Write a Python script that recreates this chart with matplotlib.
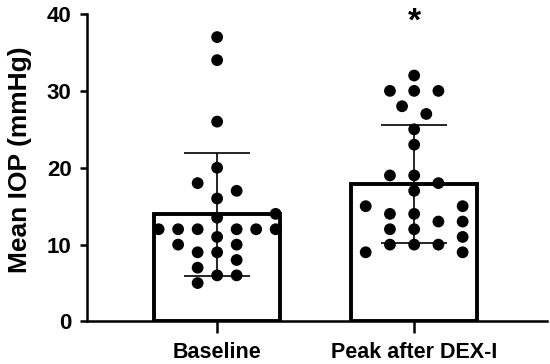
import numpy as np
import matplotlib
matplotlib.use("Agg")
import matplotlib.pyplot as plt

plt.rcParams['font.family'] = ['Liberation Sans', 'DejaVu Sans']
plt.rcParams['font.weight'] = 'bold'

groups = ['Baseline', 'Peak after DEX-I']

# IOP values (mmHg)
baseline = [37, 34, 26, 20, 18, 17, 16, 14, 13.5,
            12, 12, 12, 12, 12, 12, 11, 10, 10, 9, 9, 8, 7, 6, 6, 5]
peak = [32, 30, 30, 30, 28, 27, 25, 23, 19, 19, 18, 17, 15, 15,
        14, 14, 13, 13, 12, 12, 11, 10, 10, 10, 9, 9]

# column slot of each point inside the swarm
baseline_slot = [0, 0, 0, 0, -1, 1, 0, 3, 0,
                 -3, -2, -1, 1, 2, 3, 0, -2, 1, -1, 0, 1, -1, 0, 1, -1]
peak_slot = [0, -1, 0, 1, -0.5, 0.5, 0, 0, -1, 0, 1, 0, -2, 2,
             -1, 0, 1, 2, -1, 0, 2, -1, 0, 1, -2, 2]

data = [baseline, peak]
slots = [baseline_slot, peak_slot]
spacing = [0.099, 0.123]

fig = plt.figure(figsize=(5.5, 3.64), dpi=100)
ax = fig.add_axes([0.158, 0.1168, 0.8365, 0.8447])

for i, vals in enumerate(data):
    vals = np.array(vals, dtype=float)
    m = vals.mean()
    sd = vals.std(ddof=1)
    ax.bar(i, m, width=0.64, color='white', edgecolor='black', linewidth=2.8, zorder=1)
    ax.errorbar(i, m, yerr=sd, fmt='none', ecolor='black', elinewidth=1.2,
                capsize=24, capthick=1.2, zorder=2)
    xs = i + np.array(slots[i]) * spacing[i]
    ax.scatter(xs, vals, s=72, color='black', edgecolors='none', zorder=3, clip_on=False)

ax.text(1, 38.9, '*', ha='center', va='center', fontsize=24, fontweight='bold')

ax.set_xlim(-0.661, 1.674)
ax.set_ylim(0, 40)
ax.set_yticks([0, 10, 20, 30, 40])
ax.set_xticks([0, 1])
ax.set_xticklabels(groups, fontsize=15.5, fontweight='bold')
ax.tick_params(axis='y', labelsize=16, length=5, width=1.8, pad=6)
ax.tick_params(axis='x', length=8.5, width=1.8, pad=6)
for lab in ax.get_yticklabels():
    lab.set_fontweight('bold')

ax.spines['top'].set_visible(False)
ax.spines['right'].set_visible(False)
ax.spines['left'].set_linewidth(1.8)
ax.spines['bottom'].set_linewidth(1.8)

ax.set_ylabel('Mean IOP (mmHg)', fontsize=19, fontweight='bold')
ax.yaxis.set_label_coords(-0.12, 0.527)

fig.savefig('out.png', dpi=100)
